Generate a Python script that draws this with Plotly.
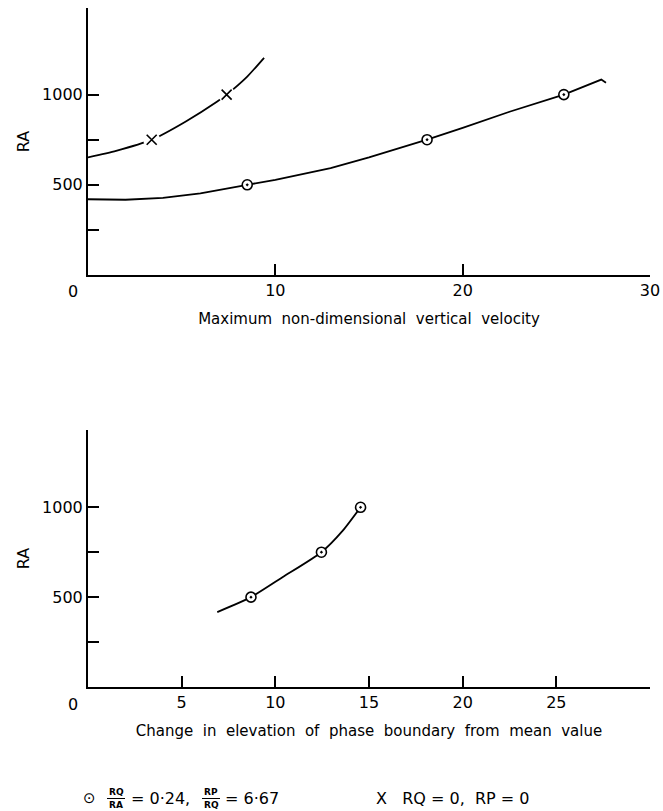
import plotly.graph_objects as go

# ---------------- data ----------------
# Top panel: RA vs maximum non-dimensional vertical velocity
vel_curve_x = [0, 2, 4, 6, 8.5, 10, 12.95, 15, 18.1, 20, 22.5, 25.4, 27.4, 27.65]
vel_curve_ra = [420, 417, 428, 453, 500, 527, 593, 652, 750, 815, 905, 1000, 1083, 1066]
vel_pts_x = [8.5, 18.1, 25.4]
vel_pts_ra = [500, 750, 1000]

vel0_curve_x = [0, 1.5, 3.4, 5.2, 6.9, 7.4, 8.5, 9.4]
vel0_curve_ra = [652, 688, 750, 850, 962, 1000, 1100, 1204]
vel0_pts_x = [3.4, 7.4]
vel0_pts_ra = [750, 1000]

# Bottom panel: RA vs change in elevation of phase boundary
elev_curve_x = [6.9, 8.7, 10.4, 12.46, 13.6, 14.55]
elev_curve_ra = [417, 500, 612, 750, 870, 1000]
elev_pts_x = [8.7, 12.46, 14.55]
elev_pts_ra = [500, 750, 1000]

top_xticks = [10, 20, 30]
top_xticklabels = ["10", "20", "30"]
bot_xticks = [5, 10, 15, 20, 25, 30]
bot_xticklabels = ["5", "10", "15", "20", "25", ""]
yticks = [250, 500, 750, 1000]
yticklabels = ["", "500", "", "1000"]

# ---------------- figure ----------------
FONT = "DejaVu Sans"
W, H = 663, 811
ML, MR, MT, MB = 88, 13, 8, 124
PW = W - ML - MR
PH = H - MT - MB

def px(x):
    return (x - ML) / PW

def py(y):
    return (H - MB - y) / PH

fig = go.Figure()

line_style = dict(color="black", width=1.8)
circle_marker = dict(symbol="circle-dot", size=10, color="white",
                     line=dict(color="black", width=1.6))

# top panel: circle series
fig.add_trace(go.Scatter(x=vel_curve_x, y=vel_curve_ra, mode="lines",
                         line=dict(line_style, shape="linear"), xaxis="x", yaxis="y",
                         showlegend=False, hoverinfo="skip", cliponaxis=False))
fig.add_trace(go.Scatter(x=vel_pts_x, y=vel_pts_ra, mode="markers",
                         marker=circle_marker, xaxis="x", yaxis="y", showlegend=False))
# top panel: X series (line broken around markers)
fig.add_trace(go.Scatter(x=vel0_curve_x, y=vel0_curve_ra, mode="lines",
                         line=dict(line_style, shape="spline", smoothing=0.6),
                         xaxis="x", yaxis="y", showlegend=False, hoverinfo="skip",
                         cliponaxis=False))
fig.add_trace(go.Scatter(x=vel0_pts_x, y=vel0_pts_ra, mode="markers",
                         marker=dict(symbol="circle", size=17, color="white",
                                     line=dict(width=0)),
                         xaxis="x", yaxis="y", showlegend=False, hoverinfo="skip"))
fig.add_trace(go.Scatter(x=vel0_pts_x, y=vel0_pts_ra, mode="markers",
                         marker=dict(symbol="x-thin", size=10,
                                     line=dict(color="black", width=1.6)),
                         xaxis="x", yaxis="y", showlegend=False))

# bottom panel
fig.add_trace(go.Scatter(x=elev_curve_x, y=elev_curve_ra, mode="lines",
                         line=dict(line_style, shape="spline", smoothing=0.6),
                         xaxis="x2", yaxis="y2", showlegend=False, hoverinfo="skip"))
fig.add_trace(go.Scatter(x=elev_pts_x, y=elev_pts_ra, mode="markers",
                         marker=circle_marker, xaxis="x2", yaxis="y2", showlegend=False))

axis_common = dict(showline=True, linecolor="black", linewidth=2, showgrid=False,
                   zeroline=False, ticks="inside", ticklen=11, tickwidth=1.5,
                   tickcolor="black", tickfont=dict(family=FONT, size=16, color="black"),
                   tickmode="array", automargin=False)

top_bottom = py(275)
bot_top = py(430)

fig.update_layout(
    width=W, height=H,
    margin=dict(l=ML, r=MR, t=MT, b=MB, autoexpand=False),
    paper_bgcolor="white", plot_bgcolor="white",
    font=dict(family=FONT, color="black"),
    xaxis=dict(axis_common, domain=[0, 1], range=[0, 30], anchor="y",
               tickvals=top_xticks, ticktext=top_xticklabels,
               title=dict(text="Maximum  non-dimensional  vertical  velocity",
                          font=dict(family=FONT, size=15), standoff=14)),
    yaxis=dict(axis_common, domain=[top_bottom, 1], range=[0, 1480], anchor="x",
               tickvals=yticks, ticktext=yticklabels,
               title=dict(text="RA", font=dict(family=FONT, size=16), standoff=8)),
    xaxis2=dict(axis_common, domain=[0, 1], range=[0, 30], anchor="y2",
                tickvals=bot_xticks, ticktext=bot_xticklabels,
                title=dict(text="Change  in  elevation  of  phase  boundary  from  mean  value",
                           font=dict(family=FONT, size=15), standoff=14)),
    yaxis2=dict(axis_common, domain=[0, bot_top], range=[0, 1430], anchor="x2",
                tickvals=yticks, ticktext=yticklabels,
                title=dict(text="RA", font=dict(family=FONT, size=16), standoff=8)),
)

ann_font = dict(family=FONT, size=16, color="black")
small_font = dict(family=FONT, size=9, color="black")

def ann(text, x, y, font, xanchor="center"):
    return dict(text=text, x=px(x), y=py(y), xref="paper", yref="paper",
                xanchor=xanchor, yanchor="middle", showarrow=False, font=font)

annotations = [
    ann("0", 73, 291, ann_font),
    ann("0", 73, 705, ann_font),
    # legend
    ann("⊙", 89, 798, dict(family=FONT, size=15, color="black")),
    ann("<b>RQ</b>", 116, 792, small_font),
    ann("<b>RA</b>", 116, 805, small_font),
    ann("= 0·24,", 129, 798, ann_font, "left"),
    ann("<b>RP</b>", 211, 792, small_font),
    ann("<b>RQ</b>", 211, 805, small_font),
    ann("= 6·67", 223, 798, ann_font, "left"),
    ann("X   RQ = 0,  RP = 0", 374, 798, ann_font, "left"),
]
fig.update_layout(annotations=annotations)

# fraction bars
for cx in (116, 211):
    fig.add_shape(type="line", xref="paper", yref="paper",
                  x0=px(cx - 9), x1=px(cx + 9), y0=py(798.5), y1=py(798.5),
                  line=dict(color="black", width=1))

fig.write_html(
    "out.html",
    config={"displayModeBar": False},
    post_script="document.body.style.margin='0';document.body.style.overflow='hidden';",
)
